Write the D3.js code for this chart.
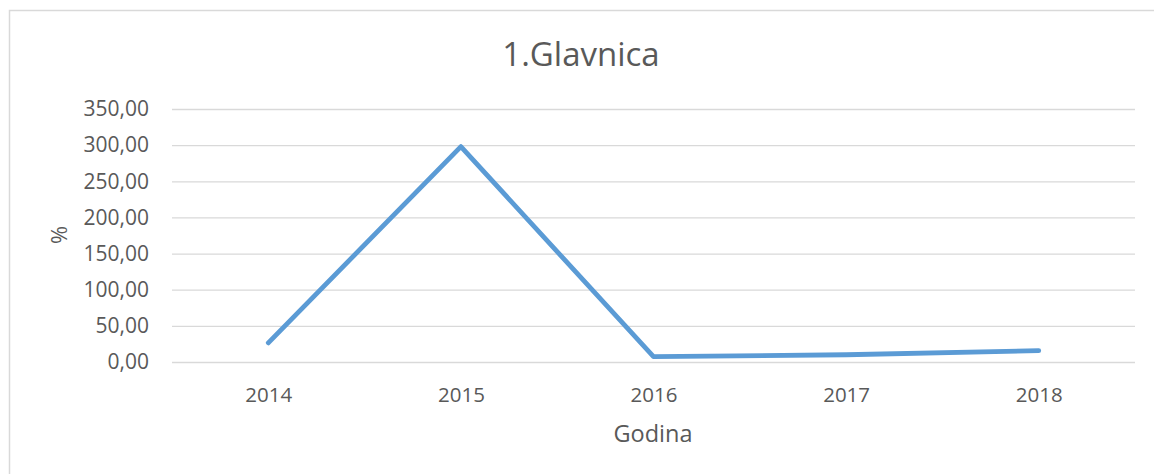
<!DOCTYPE html>
<html><head><meta charset="utf-8">
<script src="https://cdn.jsdelivr.net/npm/d3@7"></script>
<style>body{margin:0;background:#fff}svg{display:block}text{font-family:"Open Sans",sans-serif;fill:#595959}</style>
</head><body>
<svg id="c" width="1154" height="474"></svg>
<script>
const years = ["2014","2015","2016","2017","2018"];
const values = [26.5, 298, 7.3, 10, 15.8];
const yTicks = [0,50,100,150,200,250,300,350];
const title = "1.Glavnica";
const xTitle = "Godina";
const yTitle = "%";

(function(){
const svg = d3.select("#c");
svg.append("rect").attr("x",9.5).attr("y",10.5).attr("width",1160).attr("height",480)
  .attr("fill","#fff").attr("stroke","#d9d9d9").attr("stroke-width",1.5);

const pl=172, pr=1135, pt=109, pb=362;
const x = d3.scalePoint().domain(years).range([pl,pr]).padding(0.5);
const y = d3.scaleLinear().domain([0,350]).range([pb,pt]);
const fmt = v => d3.format(".2f")(v).replace(".",",");

const gy = svg.append("g").attr("transform",`translate(${pl},0)`)
  .call(d3.axisLeft(y).tickValues(yTicks).tickSize(-(pr-pl)).tickFormat(fmt).tickPadding(23));
gy.select(".domain").remove();
gy.selectAll(".tick line").attr("stroke","#d9d9d9").attr("stroke-width",1.3);
gy.selectAll(".tick text").attr("font-size",21).attr("fill","#595959").attr("font-family","Open Sans");

const gx = svg.append("g").attr("transform",`translate(0,${pb})`)
  .call(d3.axisBottom(x).tickSize(0).tickPadding(25));
gx.select(".domain").remove();
gx.selectAll(".tick text").attr("font-size",20.5).attr("fill","#595959").attr("font-family","Open Sans");

svg.append("path").datum(values)
  .attr("d", d3.line().x((d,i)=>x(years[i])).y(d=>y(d)))
  .attr("fill","none").attr("stroke","#5b9bd5").attr("stroke-width",4.8)
  .attr("stroke-linecap","round").attr("stroke-linejoin","round");

svg.append("text").attr("x",581).attr("y",66).attr("text-anchor","middle")
  .attr("font-size",33).text(title);
svg.append("text").attr("x",653).attr("y",441.5).attr("text-anchor","middle")
  .attr("font-size",23.5).text(xTitle);
svg.append("text").attr("transform","translate(67,235) rotate(-90)").attr("text-anchor","middle")
  .attr("font-size",22).text(yTitle);
})();
</script>
</body></html>
